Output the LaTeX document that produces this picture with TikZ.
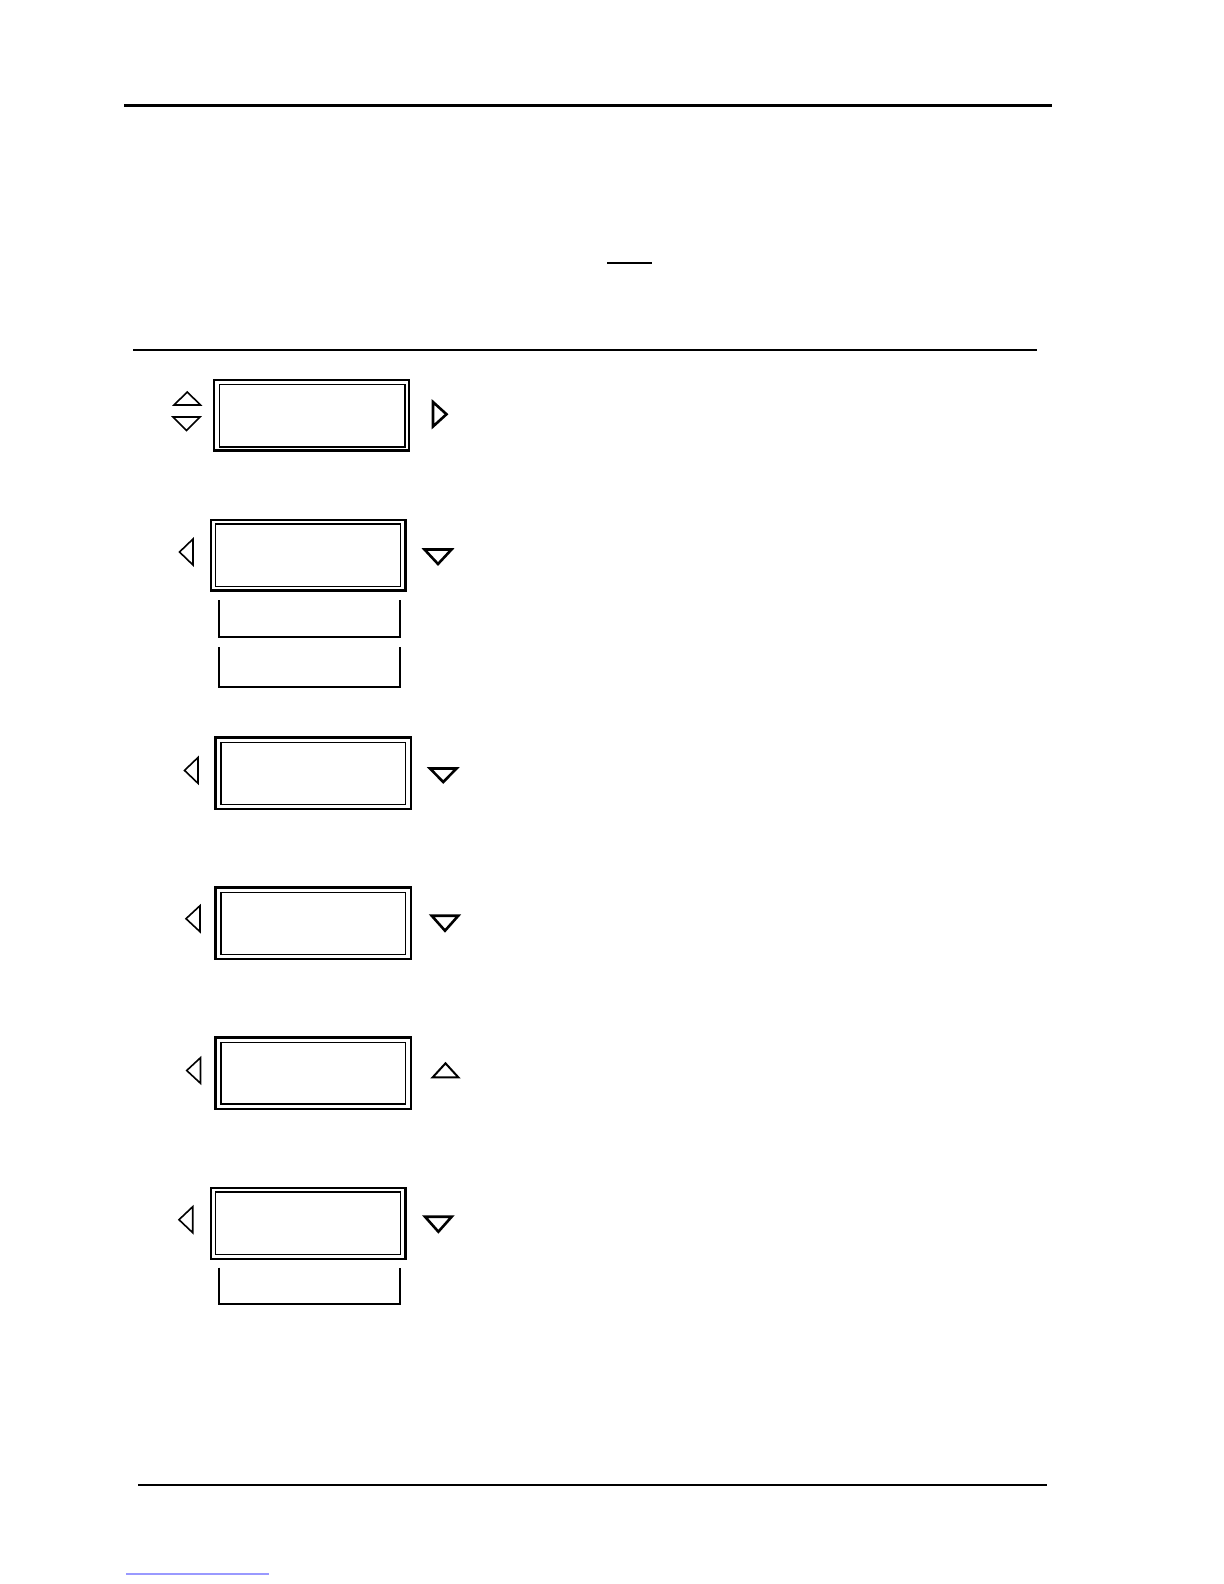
\documentclass[tikz,border=0pt]{standalone}
\usepackage{tikz}

\begin{document}
\begin{tikzpicture}[x=0.5pt,y=-0.5pt,line join=miter]
	\useasboundingbox (0,0) rectangle (1224,1584);
	\tikzset{rule/.style={line width=1.2pt},
		cadre/.style={line width=1.25pt},
		ecran/.style={line width=0.75pt},
		fleche/.style={line width=1.3pt},
		flechefine/.style={line width=0.8pt},
		sousmenu/.style={line width=1pt}}

	% traits horizontaux
	\draw[rule] (124,105.5) -- (1052,105.5);
	\draw[line width=0.8pt] (607,263) -- (652,263);
	\draw[line width=1pt] (133,350) -- (1037,350);
	\draw[rule] (138,1485) -- (1047,1485);
	\draw[blue!40,line width=0.6pt] (126,1574) -- (269,1574);

	% afficheur 1
	\draw[cadre] (214,380) rectangle (409,450.5);
	\draw[line width=0.8pt] (219.5,384.5) rectangle (405,447);
	\draw[flechefine] (174,405) -- (200.5,405) -- (187.25,392) -- cycle;
	\draw[flechefine] (173,417) -- (200,417) -- (186.5,430.5) -- cycle;
	\draw[fleche] (433,402) -- (446.5,414.25) -- (433,426.5) -- cycle;

	% afficheur 2
	\draw[cadre] (211,520) rectangle (405.5,590.5);
	\draw[line width=0.8pt] (215.5,524) rectangle (400.5,586.5);
	\draw[flechefine] (193,539) -- (179.5,552) -- (193,565) -- cycle;
	\draw[fleche] (424.5,549.5) -- (451.5,549.5) -- (438,564) -- cycle;
	% sous-menus
	\draw[sousmenu] (218.7,600) -- (218.7,636.7) -- (400,636.7) -- (400,600);
	\draw[sousmenu] (218.7,647) -- (218.7,686.7) -- (400,686.7) -- (400,647);

	% afficheur 3
	\draw[cadre] (215.5,737.5) rectangle (411,809);
	\draw[ecran] (221,742.5) rectangle (405.5,804.5);
	\draw[flechefine] (198,757.5) -- (184.5,770.4) -- (198,783.3) -- cycle;
	\draw[fleche] (430,768.5) -- (456.5,768.5) -- (443.25,782) -- cycle;

	% afficheur 4
	\draw[cadre] (215.5,887.5) rectangle (411,959);
	\draw[ecran] (221,892.5) rectangle (405.5,954.5);
	\draw[flechefine] (200,905.7) -- (186,918.7) -- (200,931.7) -- cycle;
	\draw[fleche] (431.7,915.7) -- (458.3,915.7) -- (445,930.7) -- cycle;

	% afficheur 5
	\draw[cadre] (215.5,1037.5) rectangle (411,1109);
	\draw[ecran] (221,1042.5) rectangle (405.5,1104);
	\draw[flechefine] (200.5,1057.7) -- (186.7,1070.5) -- (200.5,1083.3) -- cycle;
	\draw[line width=1pt] (432.7,1077.3) -- (458.3,1077.3) -- (445.5,1063.3) -- cycle;

	% afficheur 6
	\draw[cadre] (211,1188) rectangle (405.5,1259);
	\draw[line width=0.9pt] (215.5,1192) rectangle (400.5,1254.5);
	\draw[flechefine] (192.7,1206.7) -- (179,1219.7) -- (192.7,1232.7) -- cycle;
	\draw[fleche] (425,1216.7) -- (451.7,1216.7) -- (438.35,1231.7) -- cycle;
	\draw[sousmenu] (218.7,1267.7) -- (218.7,1304) -- (400,1304) -- (400,1267.7);

\end{tikzpicture}
\end{document}
